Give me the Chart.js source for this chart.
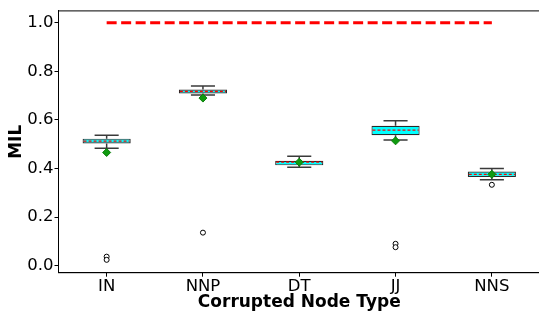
<!DOCTYPE html>
<html>
<head>
<meta charset="utf-8">
<script src="https://cdn.jsdelivr.net/npm/chart.js@4/dist/chart.umd.min.js"></script>
<style>
  html, body { margin: 0; padding: 0; background: #fff; overflow: hidden; }
  #wrap { position: relative; width: 545px; height: 313px; }
</style>
</head>
<body>
<div id="wrap"><canvas id="c"></canvas></div>
<script>
const categories   = ['IN', 'NNP', 'DT', 'JJ', 'NNS'];
const whiskerLow   = [0.483, 0.703, 0.405, 0.517, 0.354];
const q1           = [0.503, 0.709, 0.413, 0.537, 0.365];
const medians      = [0.513, 0.718, 0.426, 0.558, 0.376];
const q3           = [0.523, 0.725, 0.432, 0.576, 0.388];
const whiskerHigh  = [0.537, 0.740, 0.450, 0.597, 0.400];
const means        = [0.466, 0.690, 0.426, 0.514, 0.376];
const outliers     = [[0.037, 0.024], [0.136], [], [0.090, 0.076], [0.333]];
const referenceLine = [1.0, 1.0, 1.0, 1.0, 1.0];
const yTicks       = [0.0, 0.2, 0.4, 0.6, 0.8, 1.0];
const yMin = -0.029, yMax = 1.049;

const FONT = "'DejaVu Sans', sans-serif";

const boxPlugin = {
  id: 'boxParts',
  beforeDatasetsDraw(chart) {
    const {ctx, scales: {x, y}} = chart;
    const unit = x.getPixelForValue(1) - x.getPixelForValue(0);
    ctx.save();
    categories.forEach((c, i) => {
      const cx = x.getPixelForValue(i);
      const half = unit * 0.125;
      ctx.strokeStyle = '#3a3a3a';
      ctx.lineWidth = 1.5;
      ctx.beginPath();
      ctx.moveTo(cx, y.getPixelForValue(q3[i]));
      ctx.lineTo(cx, y.getPixelForValue(whiskerHigh[i]));
      ctx.moveTo(cx, y.getPixelForValue(q1[i]));
      ctx.lineTo(cx, y.getPixelForValue(whiskerLow[i]));
      ctx.stroke();
      ctx.beginPath();
      ctx.moveTo(cx - half, y.getPixelForValue(whiskerHigh[i]));
      ctx.lineTo(cx + half, y.getPixelForValue(whiskerHigh[i]));
      ctx.moveTo(cx - half, y.getPixelForValue(whiskerLow[i]));
      ctx.lineTo(cx + half, y.getPixelForValue(whiskerLow[i]));
      ctx.stroke();
    });
    ctx.restore();
  },
  afterDatasetDraw(chart, args) {
    if (args.index !== 0) return;
    const {ctx, scales: {x, y}} = chart;
    const meta = chart.getDatasetMeta(0);
    ctx.save();
    ctx.strokeStyle = '#ff0000';
    ctx.lineWidth = 1.3;
    ctx.setLineDash([3, 2]);
    meta.data.forEach((bar, i) => {
      const w = bar.width / 2;
      const py = y.getPixelForValue(medians[i]);
      ctx.beginPath();
      ctx.moveTo(bar.x - w + 1, py);
      ctx.lineTo(bar.x + w - 1, py);
      ctx.stroke();
    });
    ctx.restore();
  },
  afterDraw(chart) {
    const {ctx, chartArea: a} = chart;
    ctx.save();
    ctx.strokeStyle = '#000';
    ctx.lineWidth = 1;
    ctx.strokeRect(a.left, a.top, a.right - a.left, a.bottom - a.top);
    ctx.restore();
  }
};

const outlierPoints = [];
outliers.forEach((arr, i) => arr.forEach(v => outlierPoints.push({x: categories[i], y: v})));

new Chart(document.getElementById('c'), {
  type: 'bar',
  data: {
    labels: categories,
    datasets: [
      {
        type: 'bar',
        data: categories.map((c, i) => [q1[i], q3[i]]),
        backgroundColor: '#00ffff',
        borderColor: '#2a2a2a',
        borderWidth: 1.2,
        borderSkipped: false,
        barPercentage: 0.5,
        categoryPercentage: 1.0,
        order: 5
      },
      {
        type: 'line',
        data: means.map((v, i) => ({x: categories[i], y: v})),
        showLine: false,
        pointStyle: 'rectRot',
        pointRadius: 4,
        pointBackgroundColor: '#109a10',
        pointBorderColor: '#0a800a',
        pointBorderWidth: 1,
        order: 1
      },
      {
        type: 'line',
        data: outlierPoints,
        showLine: false,
        pointStyle: 'circle',
        pointRadius: 2.5,
        pointBackgroundColor: '#ffffff',
        pointBorderColor: '#000000',
        pointBorderWidth: 1,
        order: 2
      },
      {
        type: 'line',
        data: referenceLine,
        borderColor: '#ff0000',
        borderWidth: 3,
        borderDash: [10, 4.5],
        pointRadius: 0,
        fill: false,
        order: 0
      }
    ]
  },
  options: {
    responsive: true,
    maintainAspectRatio: false,
    animation: false,
    devicePixelRatio: 1,
    layout: { padding: { top: 5, right: 4.5, left: 0, bottom: 0 } },
    plugins: { legend: { display: false }, tooltip: { enabled: false } },
    scales: {
      x: {
        type: 'category',
        offset: true,
        grid: { display: true, drawOnChartArea: false, offset: false, tickLength: 4, tickColor: '#000' },
        border: { display: true, color: '#000', width: 1 },
        ticks: { color: '#000', padding: 0, font: { family: FONT, size: 16.5 }, maxRotation: 0 },
        title: { display: true, text: 'Corrupted Node Type', color: '#000', padding: { top: 0, bottom: 0 },
                 font: { family: FONT, size: 17, weight: 'bold' } },
        afterFit(s) { s.height = 40.3; }
      },
      y: {
        type: 'linear',
        min: yMin, max: yMax,
        grid: { display: true, drawOnChartArea: false, tickLength: 4, tickColor: '#000' },
        border: { display: true, color: '#000', width: 1 },
        ticks: { color: '#000', padding: 1, font: { family: FONT, size: 16.5 },
                 callback: v => v.toFixed(1) },
        afterBuildTicks(s) { s.ticks = yTicks.map(v => ({value: v})); },
        title: { display: true, text: 'MIL', color: '#000', padding: { top: 6, bottom: 0 },
                 font: { family: FONT, size: 17, weight: 'bold' } },
        afterFit(s) { s.width = 58.5; }
      }
    }
  },
  plugins: [boxPlugin]
});
</script>
</body>
</html>
